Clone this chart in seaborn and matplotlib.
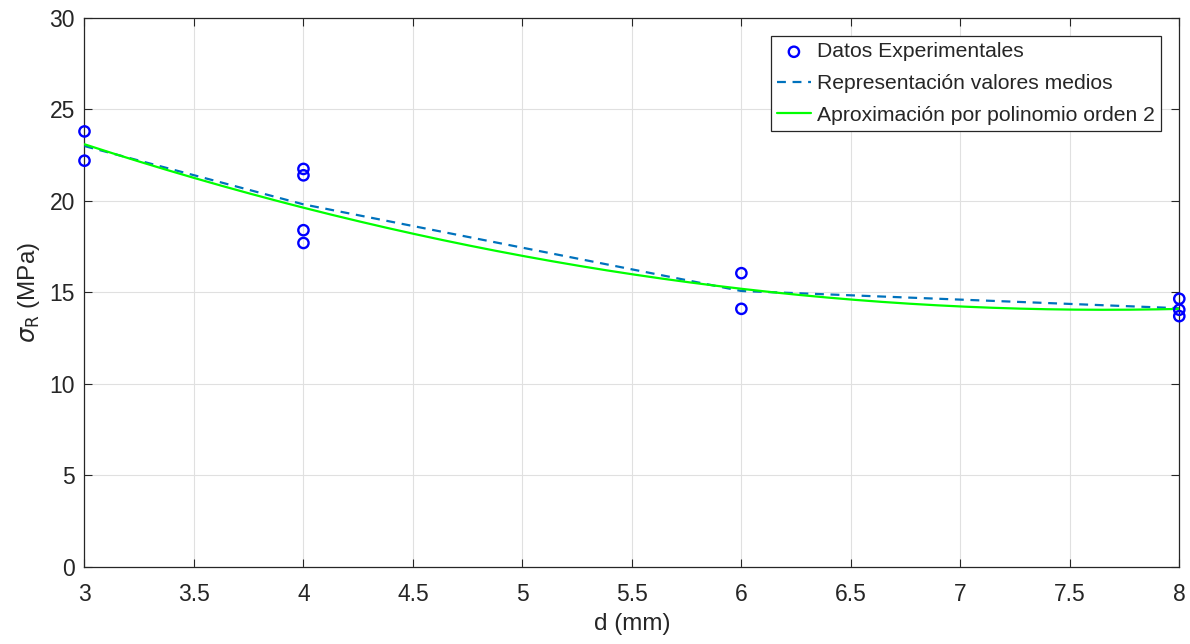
import numpy as np
import pandas as pd
import matplotlib
matplotlib.use("Agg")
import matplotlib.pyplot as plt
import seaborn as sns

# Experimental data
d_exp = [3, 3, 4, 4, 4, 4, 6, 6, 8, 8, 8]
sigma_exp = [23.8, 22.2, 21.75, 21.4, 18.4, 17.7, 16.05, 14.1, 14.65, 14.05, 13.7]

xticks = [3, 3.5, 4, 4.5, 5, 5.5, 6, 6.5, 7, 7.5, 8]
yticks = [0, 5, 10, 15, 20, 25, 30]

sns.set_theme(style="white")
plt.rcParams['font.family'] = ['Liberation Sans', 'DejaVu Sans']

df = pd.DataFrame({"d": d_exp, "s": sigma_exp})
means = df.groupby("d", as_index=False)["s"].mean()

coef = np.polyfit(means["d"], means["s"], 2)
xf = np.linspace(3, 8, 200)
fit = pd.DataFrame({"d": xf, "s": np.polyval(coef, xf)})

fig, ax = plt.subplots(figsize=(11.9, 6.44), dpi=100)
fig.subplots_adjust(left=0.071, right=0.991, top=0.972, bottom=0.12)

sns.scatterplot(data=df, x="d", y="s", ax=ax, marker="o", s=55,
                facecolors="none", edgecolor=(0, 0, 1), linewidth=1.7,
                label="Datos Experimentales", zorder=4, clip_on=False)
sns.lineplot(data=means, x="d", y="s", ax=ax, color=(0, 0.447, 0.741),
             linestyle=(0, (4, 3)), linewidth=1.6,
             label="Representación valores medios", zorder=3)
sns.lineplot(data=fit, x="d", y="s", ax=ax, color=(0, 1, 0), linewidth=1.6,
             label="Aproximación por polinomio orden 2", zorder=3)

ax.set_xlim(3, 8)
ax.set_ylim(0, 30)
ax.set_xticks(xticks)
ax.set_xticklabels([f"{t:g}" for t in xticks])
ax.set_yticks(yticks)
ax.grid(True, color="#e0e0e0", linewidth=0.8)
ax.tick_params(direction="in", length=6, labelsize=16.5, colors="#262626",
               top=True, right=True, bottom=True, left=True, width=0.8)
ax.tick_params(axis="x", pad=12)
ax.tick_params(axis="y", pad=7)
for sp in ax.spines.values():
    sp.set_color("#262626")
    sp.set_linewidth(0.9)
ax.set_xlabel("d (mm)", fontsize=17.5, color="#262626", labelpad=5)
ax.set_ylabel(r"$\sigma_{\rm R}$ (MPa)", fontsize=17.5, color="#262626", labelpad=5)

leg = ax.legend(loc="upper right", fontsize=15.2, frameon=True, fancybox=False,
                edgecolor="#262626", framealpha=1, borderaxespad=0.85,
                handlelength=1.6, handletextpad=0.3, labelspacing=0.6,
                borderpad=0.3)
leg.get_frame().set_linewidth(0.9)

fig.savefig("out.png", dpi=100)
